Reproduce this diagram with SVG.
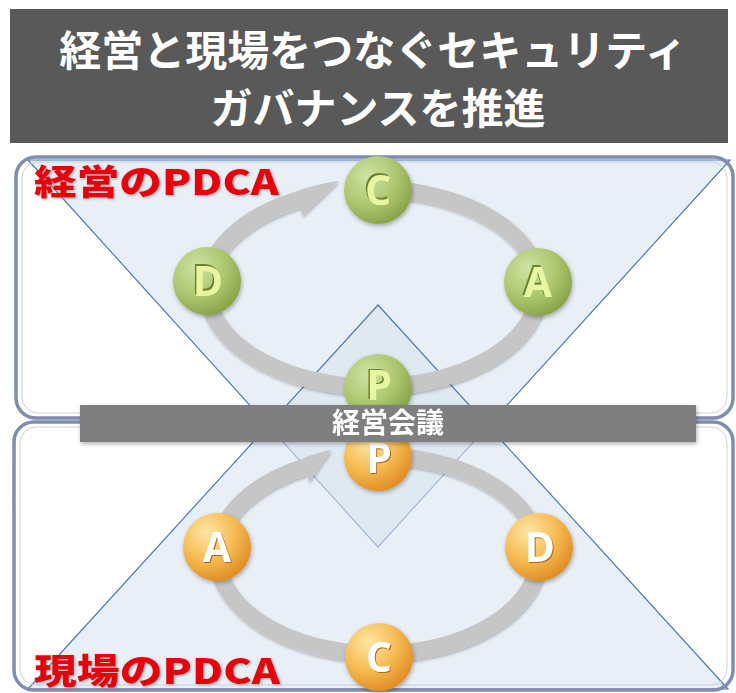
<svg xmlns="http://www.w3.org/2000/svg" width="736" height="693" viewBox="0 0 736 693">
<defs>
<style>
.title{font-family:"Noto Sans CJK JP","Noto Sans",sans-serif;font-weight:700;font-size:42px;fill:#ffffff;text-anchor:middle}
.red{font-family:"Noto Sans CJK JP","Noto Sans",sans-serif;font-weight:900;font-size:35px;fill:#e8000b}
.bar{font-family:"Noto Sans CJK JP","Noto Sans",sans-serif;font-weight:700;font-size:28px;fill:#ffffff;text-anchor:middle}
.panel{fill:none;stroke:#7f8db0;stroke-width:3.5}
.panelin{fill:none;stroke:#c9d0de;stroke-width:1}
.tri{fill:#dae4f0;fill-opacity:0.6;stroke:#4f79b4;stroke-width:1.2}
.ring{fill:none;stroke:#c6c6c6;stroke-width:17}
.head{fill:#c6c6c6}
.let{font-family:"Open Sans","Liberation Sans",Arial,sans-serif;font-weight:700;font-size:41px;text-anchor:middle}
.gl{fill:#e8f6a2}
.gs{fill:#6b8430}
.ol{fill:#ffffff}
.os{fill:#b8660c}
</style>
<radialGradient id="gG" cx="0.35" cy="0.3" r="0.8">
<stop offset="0" stop-color="#cfe3a2"/>
<stop offset="0.55" stop-color="#abc56d"/>
<stop offset="1" stop-color="#809c40"/>
</radialGradient>
<radialGradient id="gO" cx="0.35" cy="0.28" r="0.8">
<stop offset="0" stop-color="#fde6a6"/>
<stop offset="0.5" stop-color="#f6bd55"/>
<stop offset="1" stop-color="#dd861c"/>
</radialGradient>
<filter id="sh" x="-30%" y="-30%" width="160%" height="160%">
<feDropShadow dx="1" dy="2" stdDeviation="2" flood-color="#000" flood-opacity="0.3"/>
</filter>
<filter id="rsh" x="-10%" y="-10%" width="120%" height="130%">
<feDropShadow dx="1" dy="2" stdDeviation="1.5" flood-color="#000" flood-opacity="0.25"/>
</filter>
<filter id="tsh" x="-5%" y="-20%" width="110%" height="140%">
<feDropShadow dx="1" dy="1" stdDeviation="1.5" flood-color="#808080" flood-opacity="0.6"/>
</filter>
</defs>
<rect x="0" y="0" width="736" height="693" fill="#ffffff"/>

<g id="title">
<rect x="10" y="9" width="718" height="134" fill="#595959"/>
<text class="title" x="373" y="66">経営と現場をつなぐセキュリティ</text>
<text class="title" x="378" y="124">ガバナンスを推進</text>
</g>

<g id="panels-bg">
<rect x="16" y="157" width="717" height="261" rx="20" fill="#ffffff"/>
<rect x="14" y="422" width="719" height="268" rx="20" fill="#ffffff"/>
</g>

<g id="triangles">
<polygon class="tri" points="28,160 730,160 378,547"/>
<polygon class="tri" points="28,689 728,689 378,305"/>
</g>

<g id="panel-upper">
<rect class="panel" x="16" y="157" width="717" height="261" rx="20"/>
<rect class="panelin" x="22" y="162" width="705" height="251" rx="16"/>
</g>
<g id="panel-lower">
<rect class="panel" x="14" y="422" width="719" height="268" rx="20"/>
<rect class="panelin" x="20" y="427" width="707" height="258" rx="16"/>
</g>

<g id="connectors" filter="url(#rsh)">
<path class="ring" d="M373,189 A166,99 0 1 1 297.6,199.8"/>
<path class="head" d="M295.1,191.7 Q316,184 339,181 L302.5,216.1 L300.1,207.9 Z"/>
<path class="ring" d="M378,456 A161,99 0 1 1 304.9,466.8"/>
<path class="head" d="M302.4,458.7 Q316,452.5 331,450 L309,482 L307.4,474.9 Z"/>
</g>

<g id="mgmt-C" filter="url(#sh)">
<circle cx="378" cy="190" r="34" fill="url(#gG)"/>
<text class="let gs" x="376.5" y="203">C</text>
<text class="let gl" x="378" y="204.5">C</text>
</g>
<g id="mgmt-D" filter="url(#sh)">
<circle cx="207" cy="281" r="34" fill="url(#gG)"/>
<text class="let gs" x="206.5" y="294">D</text>
<text class="let gl" x="208" y="295.5">D</text>
</g>
<g id="mgmt-A" filter="url(#sh)">
<circle cx="538" cy="282" r="34" fill="url(#gG)"/>
<text class="let gs" x="536.5" y="295">A</text>
<text class="let gl" x="538" y="296.5">A</text>
</g>
<g id="mgmt-P" filter="url(#sh)">
<circle cx="378" cy="388" r="34" fill="url(#gG)"/>
<text class="let gs" x="377.5" y="398.5">P</text>
<text class="let gl" x="379" y="400">P</text>
</g>

<g id="field-P" filter="url(#sh)">
<circle cx="378" cy="457" r="34" fill="url(#gO)"/>
<text class="let os" x="380" y="474">P</text>
<text class="let ol" x="379" y="473">P</text>
</g>
<g id="field-A" filter="url(#sh)">
<circle cx="217" cy="547" r="34" fill="url(#gO)"/>
<text class="let os" x="218" y="562.5">A</text>
<text class="let ol" x="217" y="561.5">A</text>
</g>
<g id="field-D" filter="url(#sh)">
<circle cx="539" cy="547" r="34" fill="url(#gO)"/>
<text class="let os" x="541" y="562.5">D</text>
<text class="let ol" x="540" y="561.5">D</text>
</g>
<g id="field-C" filter="url(#sh)">
<circle cx="379" cy="657" r="34" fill="url(#gO)"/>
<text class="let os" x="380" y="672.5">C</text>
<text class="let ol" x="379" y="671.5">C</text>
</g>

<g id="meeting-bar" filter="url(#sh)">
<rect x="80" y="405" width="616" height="37" fill="#7f7f7f"/>
<text class="bar" x="388" y="433">経営会議</text>
</g>

<g id="label-mgmt" filter="url(#tsh)">
<text class="red" x="34" y="195" textLength="245" lengthAdjust="spacingAndGlyphs">経営のPDCA</text>
</g>
<g id="label-field" filter="url(#tsh)">
<text class="red" x="34" y="684" textLength="246" lengthAdjust="spacingAndGlyphs">現場のPDCA</text>
</g>
</svg>
